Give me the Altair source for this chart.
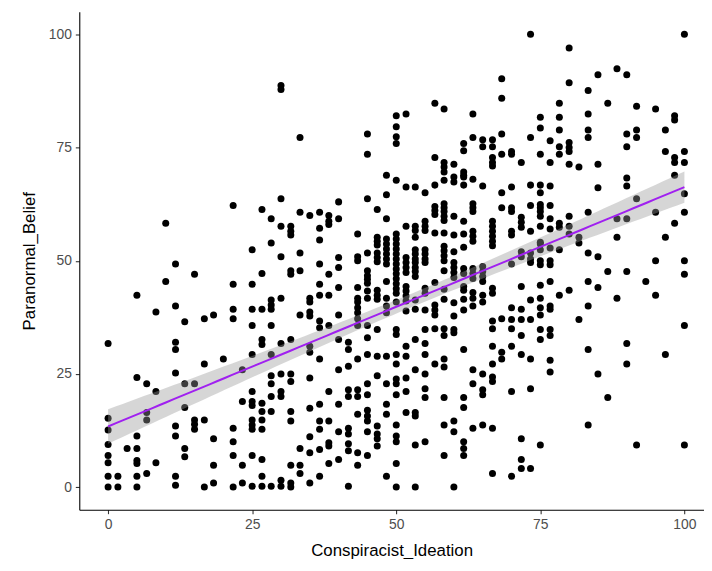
import altair as alt
import numpy as np
import pandas as pd

# Conspiracist_Ideation column positions and the Paranormal_Belief values read in each column
col_x = [0, 1.7, 3.3, 5, 6.7, 8.3, 10, 11.7, 13.3, 15, 16.7, 18.3, 20, 21.7, 23.3,
         25, 26.7, 28.3, 30, 31.7, 33.3, 35, 36.7, 38.3, 40, 41.7, 43.3, 45, 46.7, 48.3,
         50, 51.7, 53.3, 55, 56.7, 58.3, 60, 61.7, 63.3, 65, 66.7, 68.3, 70, 71.7, 73.3,
         75, 76.7, 78.3, 80, 81.7, 83.3, 85, 86.7, 88.3, 90, 91.7, 93.3, 95, 96.7, 98.3, 100]

col_y = [
    [31.7, 15.2, 12.6, 9.4, 7, 5.4, 2.4, 0],
    [2.4, 0],
    [8.5],
    [42.4, 24.2, 11.3, 8.5, 5.9, 5.2, 2.4, 0],
    [22.8, 16.5, 14.8, 3],
    [38.7, 21.1, 5.4],
    [58.3, 45.4],
    [49.3, 40, 32, 30.4, 25.2, 13.5, 11.3, 2.4, 0.4],
    [36.5, 22.8, 17.6, 8.5, 6.7],
    [47, 22.8, 14.8, 13.9, 12.8],
    [37.2, 27.2, 14.8, 0],
    [38, 10.7, 4.8, 0.9],
    [28.3],
    [62.2, 44.8, 39.3, 37.2, 13, 10, 7, 0],
    [25.9, 18.9, 4.8, 0.9],
    [52.4, 44.8, 39.3, 35.7, 29.3, 21.1, 18.9, 18, 14.8, 13.7, 12.8, 7, 0.2],
    [61.3, 47.2, 39.3, 32.6, 31.5, 18.5, 16.7, 14.8, 12.8, 6.1, 2.4, 0.2],
    [59.3, 53.9, 41.3, 40.2, 39.3, 35.7, 29.3, 24.6, 22.8, 20, 16.7, 0.2],
    [88.7, 87.8, 63.7, 57.6, 50.9, 41.7, 31.7, 25, 21.1, 20, 1.5, 0.2],
    [57.6, 56.5, 55.7, 47.8, 47, 32.6, 25, 23.3, 16.7, 14.6, 4.8, 0.9, 0],
    [77.2, 60.7, 51.7, 47.8, 38, 8.5, 4.8, 3],
    [60, 41.7, 40.9, 38.7, 37.8, 31.1, 29.8, 24.1, 17.4, 11.1, 7.6, 0.9],
    [60.7, 57.2, 54.6, 49.3, 44.8, 42.4, 36.7, 35.2, 28.3, 18.3, 14.6, 12.8, 8.3, 2.4],
    [60, 58.7, 58, 47, 42.4, 35.7, 21.1, 14.6, 9.8, 9.1, 5.2],
    [63, 59.3, 50.7, 48.5, 44.1, 38, 32.6, 25.9, 18.3, 12.2, 6.1],
    [32, 30.4, 26.7, 21.5, 20, 13, 11.7, 9.6, 8, 0.2],
    [55.9, 50.9, 50, 44.1, 41.7, 40.9, 39.6, 38.5, 37.2, 35.7, 28.3, 21.5, 20, 16.1, 7.6, 4.8],
    [78, 73.5, 63.7, 51.7, 47.8, 46.7, 45.9, 45, 43.3, 41.7, 35.7, 33, 29.3, 22.8, 20.4, 17, 15.7, 14.6, 12.2, 7],
    [61.3, 55.2, 54.3, 53.5, 51.7, 50.7, 49.8, 43.5, 42.4, 41.5, 34.8, 28.9, 24.6, 13.5, 11.7, 10.7, 9.1],
    [68.9, 64.6, 59.3, 54.8, 53.7, 52.6, 51.5, 50.4, 49.3, 45.4, 41.7, 40, 38.5, 28.9, 22.8, 18.3, 16.1, 2.4],
    [82, 79.6, 77.4, 75.9, 67.8, 55.9, 54.8, 53.7, 52.6, 51.5, 50.4, 49.3, 48.2, 47.1, 46, 44.9, 43.8,
     42.8, 40.9, 34.8, 33.7, 29.3, 27.2, 23.9, 22.8, 20.4, 13.7, 11.3, 10, 5.2, 0],
    [82.4, 66.3, 57.6, 50.7, 49.6, 48.5, 47.4, 44.3, 43.3, 42.2, 41.1, 38.9, 31.1, 28.9, 24.1, 21.1, 16.5],
    [66.3, 57.6, 56.7, 55.2, 52.4, 51.5, 50.4, 49.6, 48.5, 47.6, 46.5, 41.3, 39.3, 32.6, 25.9, 16.5, 15.7, 9.3, 0],
    [65, 58.7, 57.6, 56.7, 52.4, 51.5, 50.4, 49.6, 43.9, 42.8, 39.1, 34.8, 31.7, 29.3, 25, 21.7, 19.8, 10],
    [84.8, 72.8, 66.7, 62, 61.1, 60.2, 56.1, 45.2, 40.2, 39.1, 38, 35, 27.2],
    [83.5, 71.7, 70.7, 69.6, 67.8, 62.6, 61.7, 60.9, 59.8, 58.9, 56.1, 53.2, 52.2, 51.1, 50, 47.8, 43.7,
     41.5, 35, 33.5, 28.3, 26.5, 19.8, 13.7, 7],
    [71.3, 68.5, 67.4, 59.8, 55.7, 52, 49.6, 48.5, 47.4, 46.3, 40.7, 37.8, 34.8, 34.1, 14.6, 12.2, 0],
    [75.9, 74.3, 69.6, 68.5, 68.9, 66.7, 58.7, 55.9, 53, 48.3, 47.2, 44.3, 43.5, 41.5, 39.1, 30.4, 19.8, 17.6, 10, 8.5, 7],
    [82.4, 77.2, 68, 62.6, 61.7, 60.9, 56.5, 55.4, 54.3, 48.3, 47.2, 46.1, 43, 41.7, 40, 25.9, 22.8, 13],
    [76.7, 75.2, 66.5, 48.7, 47.6, 46.5, 45.4, 42.4, 40.9, 25, 21.5, 20.4, 13.7],
    [76.7, 75.2, 72.8, 71.7, 70.9, 58.7, 57.6, 56.5, 55.4, 54.3, 53.3, 43.9, 42.8, 36.7, 35, 31.1, 27.2, 24.3, 23.3, 13, 3],
    [90.2, 85.9, 78, 73.5, 65, 61.7, 37.2, 29.8, 28.3],
    [74.1, 73.5, 66.3, 61.7, 60.9, 56.5, 55.7, 49.3, 39.6, 37, 35, 31.1, 21.1, 2.4],
    [71.7, 59.6, 58.5, 57.4, 52, 50.9, 44.3, 39.3, 37, 33.5, 29.3, 10.7, 6.1, 4.1],
    [100, 77.2, 66.7, 62.2, 56.5, 51.7, 50.4, 49.6, 41.3, 37, 28.3, 21.7, 4.1],
    [81.7, 79.3, 73.5, 66.7, 65, 62.4, 61.7, 60.9, 59.8, 57.6, 54.1, 53.7, 52.4, 50, 49.1, 44.6, 41.7,
     39.6, 38, 34.8, 32.6, 9.3],
    [76.5, 71.7, 66.5, 62.2, 59.3, 57, 52.8, 50, 49.1, 45.4, 40, 39.3, 34.8, 33.5, 28, 25.4],
    [84.8, 81.7, 78.9, 75.2, 73.5, 58.3, 57.4, 52.4, 42.4],
    [97, 89.3, 76.1, 75, 74.1, 71.3, 59.8, 57.6, 55.9, 43.5],
    [70.7, 55.2, 53.9, 37],
    [87.6, 82.4, 78.9, 77.2, 60.7, 51.7, 45.4, 40, 30.4, 13.7],
    [91.1, 71.3, 66.1, 50.9, 44.1, 25],
    [84.8, 47.6, 19.8],
    [92.4, 59.3, 55.2, 41.7],
    [91.1, 78, 75.2, 68.3, 66.5, 59.3, 47.6, 31.7, 27.2],
    [84.1, 78.9, 77.2, 63.7, 9.3],
    [45.4],
    [83.5, 60.7, 50, 42.4],
    [78.9, 74.1, 55.2, 29.3],
    [82, 81.1, 72.8, 71.7, 68.9, 58.3],
    [100, 74.1, 71.7, 64.8, 60.7, 50, 47, 35.7, 9.3],
]

x_ticks = [0, 25, 50, 75, 100]
y_ticks = [0, 25, 50, 75, 100]

xs, ys = [], []
for cx, cys in zip(col_x, col_y):
    for v in cys:
        xs.append(cx)
        ys.append(v)
df = pd.DataFrame({"Conspiracist_Ideation": xs, "Paranormal_Belief": ys})

# linear model + 95% confidence band (as geom_smooth(method="lm"))
X = np.array(xs, float)
Y = np.array(ys, float)
n = len(X)
b, a = np.polyfit(X, Y, 1)
resid = Y - (a + b * X)
s = np.sqrt((resid ** 2).sum() / (n - 2))
xbar = X.mean()
sxx = ((X - xbar) ** 2).sum()
grid = np.linspace(X.min(), X.max(), 80)
fit = a + b * grid
se = s * np.sqrt(1.0 / n + (grid - xbar) ** 2 / sxx)
band = pd.DataFrame({"x": grid, "fit": fit, "lo": fit - 1.963 * se, "hi": fit + 1.963 * se})

xscale = alt.Scale(domain=[-5, 103.4], nice=False, zero=False)
yscale = alt.Scale(domain=[-5, 105], nice=False, zero=False)

xaxis = alt.Axis(values=x_ticks, title="Conspiracist_Ideation", grid=False)
yaxis = alt.Axis(values=y_ticks, title="Paranormal_Belief", grid=False)

points = alt.Chart(df).mark_circle(size=50, color="#000000", opacity=1).encode(
    x=alt.X("Conspiracist_Ideation:Q", scale=xscale, axis=xaxis),
    y=alt.Y("Paranormal_Belief:Q", scale=yscale, axis=yaxis),
)

ribbon = alt.Chart(band).mark_area(color="#999999", opacity=0.4).encode(
    x=alt.X("x:Q", scale=xscale),
    y=alt.Y("lo:Q", scale=yscale),
    y2="hi:Q",
)

line = alt.Chart(band).mark_line(color="#A020F0", strokeWidth=2).encode(
    x=alt.X("x:Q", scale=xscale),
    y=alt.Y("fit:Q", scale=yscale),
)

chart = alt.layer(points, ribbon, line).properties(
    width=631,
    height=503,
    autosize=alt.AutoSizeParams(type="none"),
    padding={"left": 72, "top": 1, "right": 0, "bottom": 47},
).configure_view(
    stroke=None
).configure_axis(
    domainColor="#000000",
    domainWidth=1.1,
    tickColor="#333333",
    tickSize=4,
    tickWidth=1.1,
    labelColor="#4D4D4D",
    labelFont="Liberation Sans",
    labelFontSize=14,
    titleFont="Liberation Sans",
    titleFontSize=17,
    titleFontWeight="normal",
    titleColor="#000000",
    labelPadding=4,
).configure_axisX(
    titlePadding=11,
).configure_axisY(
    titlePadding=10,
)

chart.save("out.html", embed_options={"renderer": "svg", "actions": False})
